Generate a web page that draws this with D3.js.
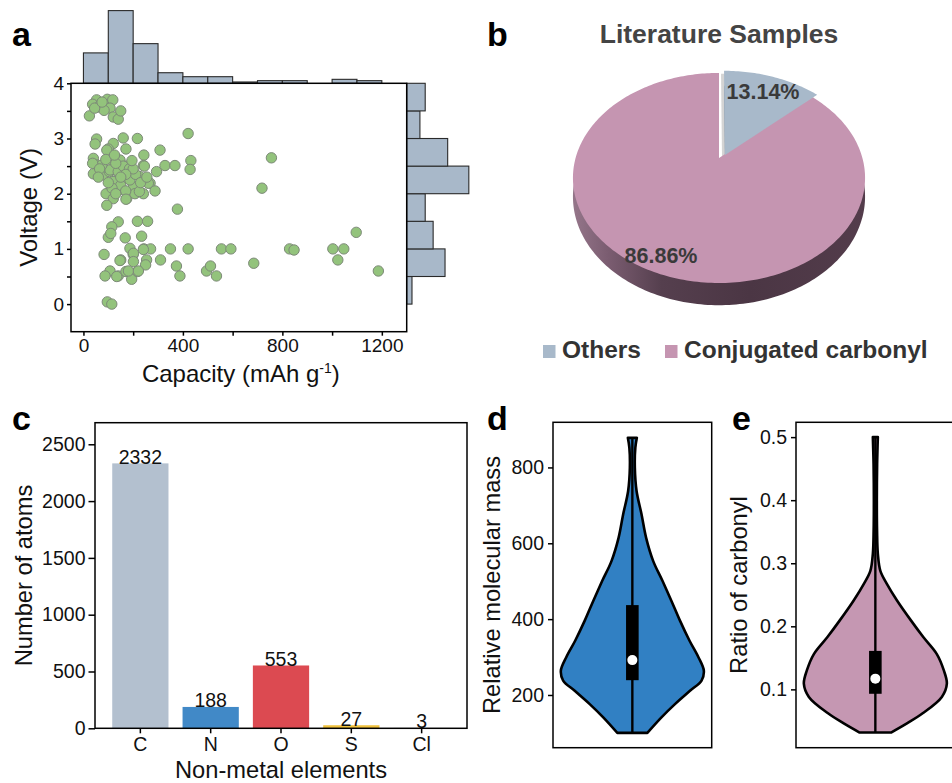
<!DOCTYPE html>
<html><head><meta charset="utf-8">
<script src="https://cdn.jsdelivr.net/npm/d3@7"></script>
<style>
body{margin:0;background:#fff;}
svg text{font-family:"Liberation Sans",Arial,sans-serif;}
</style></head><body>
<svg id="fig" width="952" height="783"></svg>
<script>
// ---- data ----
// panel a: scatter (capacity in mAh/g, voltage in V)
var capacity = [24,53,60,37,67,96,118,107,83,120,140,150,45,75,
  53,47,160,217,421,308,120,100,171,756,243,328,368,432,429,241,
  40,53,40,80,104,134,158,147,174,201,227,245,268,294,288,94,120,
  91,120,144,174,207,241,94,120,187,225,261,107,140,160,74,37,
  65,130,185,210,150,115,170,200,90,60,230,255,170,125,195,100,130,150,
  171,718,378,140,217,258,114,100,168,234,1097,110,
  83,187,243,270,350,421,555,593,829,847,1003,1047,1023,685,150,200,254,310,
  374,388,495,511,535,1186,107,87,140,171,194,217,250,96,114,
  201,241,147,201,181,134,221];
var voltage = [3.41,3.70,3.57,3.62,3.60,3.71,3.70,3.55,3.51,3.39,3.35,3.50,3.55,3.66,
  2.99,2.90,3.01,3.00,3.09,2.79,2.91,2.81,2.81,2.65,2.70,2.51,2.51,2.60,2.44,2.51,
  2.64,2.52,2.36,2.34,2.40,2.25,2.26,2.61,2.50,2.13,2.31,2.50,2.19,2.40,2.05,2.79,2.58,
  2.00,1.91,2.07,1.91,2.00,2.00,1.79,2.22,2.25,2.04,2.19,2.43,2.40,2.50,2.52,2.55,
  2.45,2.55,2.45,2.35,2.15,2.10,2.05,2.45,2.62,2.30,2.20,2.30,2.35,2.70,2.60,2.20,2.00,2.30,
  1.90,2.10,1.72,1.49,1.50,1.50,1.40,1.21,1.20,1.23,1.30,1.28,
  0.90,1.01,1.00,1.00,1.00,1.00,1.00,1.00,1.00,0.98,1.00,1.00,0.80,0.74,0.80,0.90,0.80,0.80,
  0.69,0.51,0.60,0.69,0.51,0.60,0.60,0.51,0.51,0.59,0.45,0.59,0.71,0.04,0.00,
  0.92,0.99,0.79,0.77,0.60,0.50,0.60];
// marginal histograms
var capBinStart = [0,100,200,300,400,500,600,700,800,900,1000,1100];
var capCounts   = [23,55,30,8,5,5,1,2,2,0,3,2];
var voltBinStart = [0,0.5,1.0,1.5,2.0,2.5,3.0,3.5];
var voltCounts   = [4,29,20,14,47,31,10,14];

// panel b: pie
var pieLabels = ['Others','Conjugated carbonyl'];
var pieValues = [13.14, 86.86];

// panel c: bars
var elements = ['C','N','O','S','Cl'];
var atomCounts = [2332,188,553,27,3];

// panel d: violin (relative molecular mass) profile, relative density
var massLevels  = [100,141,176,211,238,264,299,343,396,448,501,553,615,676,738,799,852,878];
var massDensity = [0.21,0.407,0.596,0.806,0.968,1,0.926,0.8,0.666,0.547,0.421,0.292,0.192,0.129,0.059,0.035,0.042,0.063];
var massStats = {min:100, q1:239, median:292, q3:437, max:880};

// panel e: violin (ratio of carbonyl)
var ratioLevels  = [0.0315,0.046,0.062,0.088,0.109,0.130,0.156,0.183,0.209,0.241,0.267,0.288,0.315,0.352,0.399,0.457,0.50];
var ratioDensity = [0.22,0.442,0.662,0.93,1,0.958,0.86,0.67,0.5,0.303,0.163,0.07,0.035,0.024,0.021,0.025,0.035];
var ratioStats = {min:0.0315, q1:0.093, median:0.117, q3:0.161, max:0.50};

// ---- drawing ----
var svg = d3.select('#fig');
var FONT = '"Liberation Sans",Arial,sans-serif';
var intFmt = d3.format('d');

function styleAxis(g, fs){
  g.attr('font-family', FONT);
  g.selectAll('.domain').remove();
  g.selectAll('.tick line').attr('stroke','#000').attr('stroke-width',1.5);
  g.selectAll('.tick text').attr('font-size', fs).attr('fill','#111');
}
function panelLabel(txt, x, y){
  svg.append('text').attr('x',x).attr('y',y).attr('font-size',34)
    .attr('font-weight','bold').attr('fill','#000').text(txt);
}
function frame(x0,y0,x1,y1){
  svg.append('rect').attr('x',x0).attr('y',y0).attr('width',x1-x0).attr('height',y1-y0)
    .attr('fill','none').attr('stroke','#000').attr('stroke-width',1.5);
}

// ===== panel a =====
(function(){
  var L=71, R=406.7, T=83.3, B=331.7;
  var x = d3.scaleLinear().domain([-50,1300]).range([L,R]);
  var y = d3.scaleLinear().domain([-0.5,4]).range([B,T]);
  var cnt = d3.scaleLinear().domain([0,55]).range([0,72.7]);
  var g = svg.append('g');

  // top histogram
  g.selectAll('rect.ht').data(capCounts.map(function(c,i){return {s:capBinStart[i],c:c};}).filter(function(d){return d.c>0;}))
    .enter().append('rect')
    .attr('x', function(d){return x(d.s);})
    .attr('width', function(d){return x(d.s+100)-x(d.s);})
    .attr('y', function(d){return T-cnt(d.c);})
    .attr('height', function(d){return cnt(d.c);})
    .attr('fill','#a8b8c9').attr('stroke','#2a2a2a').attr('stroke-width',1.1);

  // right histogram
  g.selectAll('rect.hr').data(voltCounts.map(function(c,i){return {s:voltBinStart[i],c:c};}))
    .enter().append('rect')
    .attr('x', R)
    .attr('width', function(d){return cnt(d.c);})
    .attr('y', function(d){return y(d.s+0.5);})
    .attr('height', function(d){return y(d.s)-y(d.s+0.5);})
    .attr('fill','#a8b8c9').attr('stroke','#2a2a2a').attr('stroke-width',1.1);

  svg.append('rect').attr('x',L).attr('y',T).attr('width',R-L).attr('height',B-T).attr('fill','#fff');

  // scatter
  g = svg.append('g');
  g.selectAll('circle').data(capacity.map(function(c,i){return [c,voltage[i]];}))
    .enter().append('circle')
    .attr('cx', function(d){return x(d[0]);})
    .attr('cy', function(d){return y(d[1]);})
    .attr('r', 5.2)
    .attr('fill','#93c37c').attr('stroke','#7d8a78').attr('stroke-width',1);

  frame(L,T,R,B);

  var xa = svg.append('g').attr('transform','translate(0,'+B+')')
    .call(d3.axisBottom(x).tickValues([0,400,800,1200]).tickFormat(intFmt).tickSize(4).tickPadding(3));
  styleAxis(xa, 19);
  var xm = svg.append('g').attr('transform','translate(0,'+B+')')
    .call(d3.axisBottom(x).tickValues([200,600,1000]).tickSize(4).tickFormat(''));
  styleAxis(xm, 19);
  var ya = svg.append('g').attr('transform','translate('+L+',0)')
    .call(d3.axisLeft(y).tickValues([0,1,2,3,4]).tickFormat(intFmt).tickSize(4).tickPadding(3));
  styleAxis(ya, 19);
  var ym = svg.append('g').attr('transform','translate('+L+',0)')
    .call(d3.axisLeft(y).tickValues([0.5,1.5,2.5,3.5]).tickSize(4).tickFormat(''));
  styleAxis(ym, 19);

  var xt = svg.append('text').attr('x',(L+R)/2+2).attr('y',381.7).attr('text-anchor','middle')
    .attr('font-size',24).attr('fill','#111');
  xt.append('tspan').text('Capacity (mAh g');
  xt.append('tspan').attr('dy',-9).attr('font-size',14).text('-1');
  xt.append('tspan').attr('dy',9).text(')');
  svg.append('text').attr('transform','translate(37,'+((T+B)/2)+') rotate(-90)')
    .attr('text-anchor','middle').attr('font-size',24).attr('fill','#111').text('Voltage (V)');
  panelLabel('a', 12, 46);
})();

// ===== panel b =====
(function(){
  var cx=719, cy=158, R=143.4, tilt=0.706, persp=0.19, depth=18;
  function proj(theta, r, drop, off){
    var u = r*Math.sin(theta)+off[0], v = r*Math.cos(theta)+off[1];
    var s = 1/(1+persp*v);
    return [cx+R*u*s, cy+(drop-R*tilt*v)*s];
  }
  function slicePath(a0, a1, drop, off, shift){
    var pts = [proj(0,0,drop,off)];
    var n = Math.max(4, Math.ceil((a1-a0)/0.02));
    for (var i=0;i<=n;i++) pts.push(proj(a0+(a1-a0)*i/n, 1, drop, off));
    shift = shift || [0,0];
    return d3.line()(pts.map(function(p){return [p[0]+shift[0], p[1]+shift[1]];}))+'Z';
  }
  var arcs = d3.pie().sort(null)(pieValues);
  var others = arcs[0], main = arcs[1];
  var offOthers = [0.042, 0.03], none=[0,0];

  var defs = svg.append('defs');
  var grad = defs.append('linearGradient').attr('id','sideGrad')
    .attr('gradientUnits','userSpaceOnUse').attr('x1',574).attr('x2',866).attr('y1',0).attr('y2',0);
  [[0,'#947589'],[0.12,'#7a5c70'],[0.3,'#553f4e'],[0.6,'#4b3644'],[1,'#533c4b']].forEach(function(s){
    grad.append('stop').attr('offset',s[0]).attr('stop-color',s[1]);
  });

  var g = svg.append('g');
  g.append('path').attr('d', slicePath(main.startAngle, main.endAngle, depth, none)).attr('fill','url(#sideGrad)');
  g.append('path').attr('d', slicePath(others.startAngle, others.endAngle, 0, offOthers, [-3,3])).attr('fill','#d4d4d4');
  g.append('path').attr('d', slicePath(others.startAngle, others.endAngle, depth, offOthers)).attr('fill','#8595a6');
  g.append('path').attr('d', slicePath(main.startAngle, main.endAngle, 0, none)).attr('fill','#c595b1');
  g.append('path').attr('d', slicePath(others.startAngle, others.endAngle, 0, offOthers)).attr('fill','#a8b9ca');

  g.append('text').attr('x',763).attr('y',99).attr('text-anchor','middle').attr('font-size',21.5)
    .attr('font-weight','bold').attr('fill','#3a3a3a').text(pieValues[0].toFixed(2)+'%');
  g.append('text').attr('x',661).attr('y',263).attr('text-anchor','middle').attr('font-size',21.5)
    .attr('font-weight','bold').attr('fill','#3a3a3a').text(pieValues[1].toFixed(2)+'%');

  svg.append('text').attr('x',719).attr('y',42.5).attr('text-anchor','middle').attr('font-size',26.5)
    .attr('font-weight','bold').attr('fill','#444').text('Literature Samples');

  var legX = [543, 665], legCol = ['#a8b9ca','#c595b1'];
  pieLabels.forEach(function(lab,i){
    svg.append('rect').attr('x',legX[i]).attr('y',345).attr('width',12.5).attr('height',13).attr('fill',legCol[i]);
    svg.append('text').attr('x',legX[i]+19).attr('y',358).attr('font-size',24.5)
      .attr('font-weight','bold').attr('fill','#333').text(lab);
  });
  panelLabel('b', 487, 46);
})();

// ===== panel c =====
(function(){
  var L=95, R=467, T=422.7, B=728.3;
  var x = d3.scaleBand().domain(elements).range([L,R]).paddingInner(0.2).paddingOuter(0.245);
  var y = d3.scaleLinear().domain([0,2690]).range([B,T]);
  var colors = ['#b3c0cf','#4189c7','#dc4a51','#f0c23e','#7f7f7f'];
  svg.selectAll('rect.bar').data(atomCounts).enter().append('rect')
    .attr('x', function(d,i){return x(elements[i]);})
    .attr('width', x.bandwidth())
    .attr('y', function(d){return y(d);})
    .attr('height', function(d){return B-y(d);})
    .attr('fill', function(d,i){return colors[i];});
  svg.selectAll('text.val').data(atomCounts).enter().append('text')
    .attr('x', function(d,i){return x(elements[i])+x.bandwidth()/2;})
    .attr('y', function(d){return y(d)+0.5;})
    .attr('text-anchor','middle').attr('font-size',19.5).attr('fill','#111')
    .text(function(d){return d;});
  frame(L,T,R,B);
  var xa = svg.append('g').attr('transform','translate(0,'+B+')')
    .call(d3.axisBottom(x).tickSize(5).tickPadding(4));
  styleAxis(xa, 19.5);
  var ya = svg.append('g').attr('transform','translate('+L+',0)')
    .call(d3.axisLeft(y).tickValues([0,500,1000,1500,2000,2500]).tickFormat(intFmt).tickSize(6.5).tickPadding(3));
  styleAxis(ya, 19.5);
  svg.append('text').attr('x',(L+R)/2).attr('y',778).attr('text-anchor','middle')
    .attr('font-size',23.7).attr('fill','#111').text('Non-metal elements');
  svg.append('text').attr('transform','translate(32,'+((T+B)/2)+') rotate(-90)')
    .attr('text-anchor','middle').attr('font-size',23.7).attr('fill','#111').text('Number of atoms');
  panelLabel('c', 12, 430);
})();

// ===== panels d, e =====
function violin(opt){
  var L=opt.L, R=L+158.7, T=422.3, B=747.7, cx=(L+R)/2;
  var y = d3.scaleLinear().domain(opt.domain).range([B,T]);
  var w = d3.scaleLinear().domain([0,1]).range([0,71.5]);
  var pts = opt.levels.map(function(v,i){return {v:v, d:opt.density[i]};});
  var area = d3.area().curve(d3.curveCatmullRom)
    .y(function(d){return y(d.v);})
    .x0(function(d){return cx-w(d.d);})
    .x1(function(d){return cx+w(d.d);});
  svg.append('path').attr('d', area(pts)).attr('fill',opt.color)
    .attr('stroke','#000').attr('stroke-width',2.6).attr('stroke-linejoin','round');
  var s = opt.stats;
  svg.append('line').attr('x1',cx).attr('x2',cx).attr('y1',y(s.min)).attr('y2',y(s.max))
    .attr('stroke','#000').attr('stroke-width',2.4);
  svg.append('rect').attr('x',cx-6.3).attr('width',12.6).attr('y',y(s.q3)).attr('height',y(s.q1)-y(s.q3))
    .attr('fill','#000');
  svg.append('circle').attr('cx',cx).attr('cy',y(s.median)).attr('r',5).attr('fill','#fff');
  frame(L,T,R,B);
  var ya = svg.append('g').attr('transform','translate('+L+',0)')
    .call(d3.axisLeft(y).tickValues(opt.ticks).tickFormat(opt.fmt).tickSize(5).tickPadding(4));
  styleAxis(ya, 19.5);
  svg.append('text').attr('transform','translate('+opt.titleX+','+((T+B)/2)+') rotate(-90)')
    .attr('text-anchor','middle').attr('font-size',23.7).attr('fill','#111').text(opt.title);
}
violin({L:553, domain:[61,919], levels:massLevels, density:massDensity, stats:massStats,
  color:'#3180c3', ticks:[200,400,600,800], fmt:intFmt, title:'Relative molecular mass', titleX:500});
violin({L:796, domain:[0.0075,0.5235], levels:ratioLevels, density:ratioDensity, stats:ratioStats,
  color:'#c597b2', ticks:[0.1,0.2,0.3,0.4,0.5], fmt:d3.format('.1f'), title:'Ratio of carbonyl', titleX:746.5});
panelLabel('d', 487, 430);
panelLabel('e', 732, 430);
</script></body></html>
